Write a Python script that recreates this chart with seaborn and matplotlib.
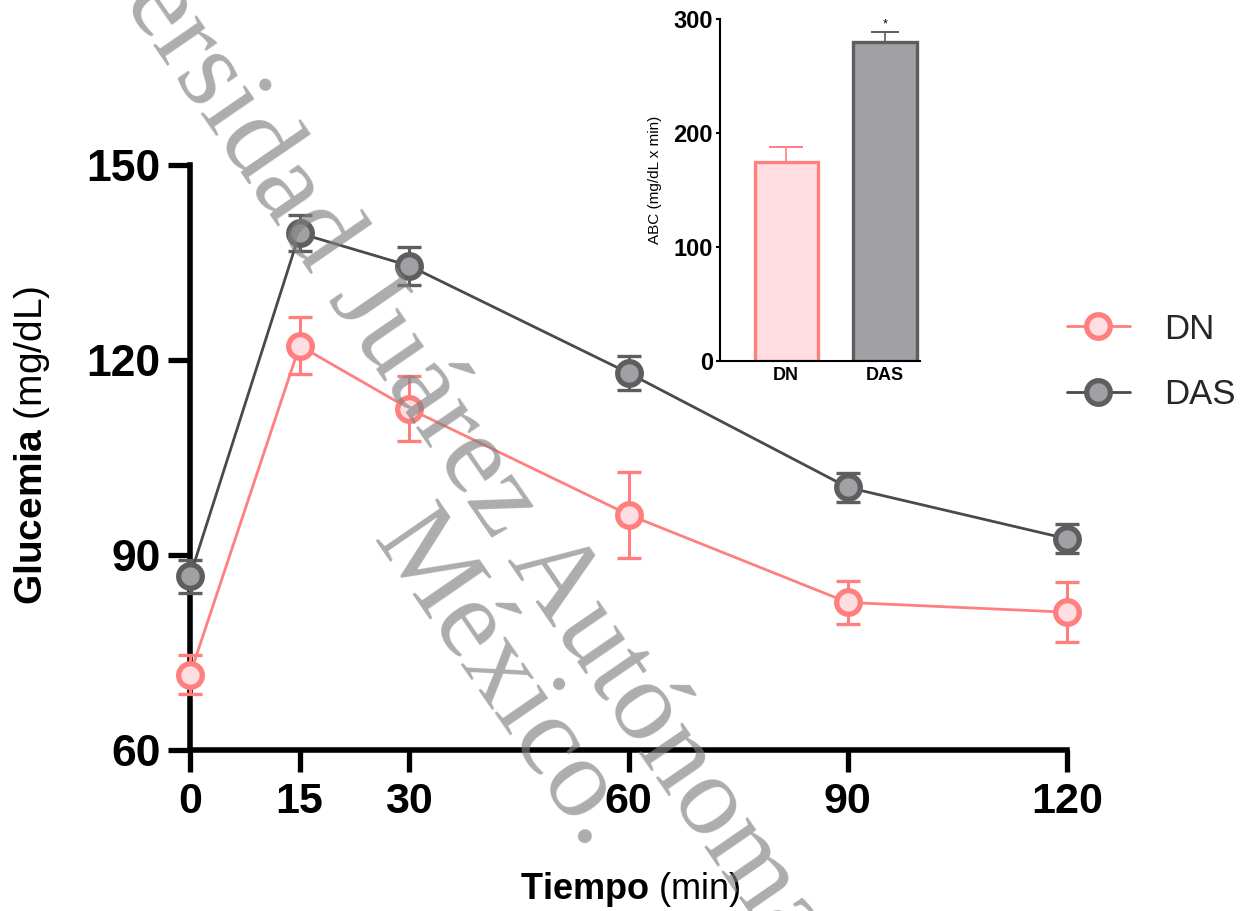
import matplotlib
matplotlib.use("Agg")
import matplotlib.pyplot as plt
import seaborn as sns
import pandas as pd
from matplotlib.lines import Line2D

# ---- data ----
time_min = [0, 15, 30, 60, 90, 120]
dn_mean = [71.6, 122.2, 112.5, 96.2, 82.7, 81.2]
dn_sem = [3.0, 4.4, 5.0, 6.6, 3.3, 4.6]
das_mean = [86.7, 139.5, 134.5, 118.0, 100.4, 92.5]
das_sem = [2.5, 2.8, 2.9, 2.6, 2.2, 2.2]

groups = ["DN", "DAS"]
abc_mean = [174.6, 279.6]
abc_sem = [13.4, 9.3]

y_ticks = [60, 90, 120, 150]
x_ticks = [0, 15, 30, 60, 90, 120]
abc_ticks = [0, 100, 200, 300]

# ---- style ----
sns.set_theme(style="ticks")
plt.rcParams["font.family"] = ["Liberation Sans", "DejaVu Sans"]
plt.rcParams["mathtext.fontset"] = "custom"
plt.rcParams["mathtext.bf"] = "Liberation Sans:bold"
plt.rcParams["mathtext.rm"] = "Liberation Sans"
plt.rcParams["mathtext.it"] = "Liberation Sans:italic"

DN_EDGE = "#FF7F7F"
DN_FACE = "#FFDDE0"
DAS_EDGE = "#5E5E5E"
DAS_FACE = "#A0A0A5"
DAS_LINE = "#4A4A4A"

W, H = 1248, 911
fig = plt.figure(figsize=(W / 100, H / 100), dpi=100)
fig.patch.set_facecolor("white")

ax = fig.add_axes([190 / W, (H - 750) / H, 877 / W, 585 / H])
ax.set_facecolor("white")

df = pd.DataFrame({"t": time_min, "DN": dn_mean, "DAS": das_mean})

# error bars (behind markers)
ax.errorbar(time_min, dn_mean, yerr=dn_sem, fmt="none", ecolor=DN_EDGE,
            elinewidth=2.2, capsize=8.5, capthick=2.4, zorder=3, clip_on=False)
ax.errorbar(time_min, das_mean, yerr=das_sem, fmt="none", ecolor=DAS_EDGE,
            elinewidth=2.2, capsize=8.5, capthick=2.4, zorder=3, clip_on=False)

sns.lineplot(data=df, x="t", y="DN", ax=ax, color=DN_EDGE, lw=2.0,
             marker="o", markersize=17, markerfacecolor=DN_FACE,
             markeredgecolor=DN_EDGE, markeredgewidth=3.8, zorder=4,
             clip_on=False, legend=False)
sns.lineplot(data=df, x="t", y="DAS", ax=ax, color=DAS_LINE, lw=2.0,
             marker="o", markersize=17, markerfacecolor=DAS_FACE,
             markeredgecolor=DAS_EDGE, markeredgewidth=3.8, zorder=4,
             clip_on=False, legend=False)

ax.set_xlim(0, 120)
ax.set_ylim(60, 150)
ax.set_xticks(x_ticks)
ax.set_yticks(y_ticks)
ax.set_xticklabels([str(v) for v in x_ticks], fontsize=31, fontweight="bold")
ax.set_yticklabels([str(v) for v in y_ticks], fontsize=32, fontweight="bold")
for s in ["top", "right"]:
    ax.spines[s].set_visible(False)
for s in ["left", "bottom"]:
    ax.spines[s].set_linewidth(4.0)
    ax.spines[s].set_color("black")
ax.tick_params(axis="both", length=16, width=3.8, direction="out", colors="black")
ax.tick_params(axis="x", pad=7)
ax.tick_params(axis="y", pad=5)

ax.set_xlabel(r"$\mathbf{Tiempo}$ (min)", fontsize=26, color="black", va="center")
ax.xaxis.set_label_coords(0.5017, -0.238)
ax.set_ylabel(r"$\mathbf{Glucemia}$ (mg/dL)", fontsize=28, color="black", va="center")
ax.yaxis.set_label_coords(-0.18, 0.521)

# legend
handles = [
    Line2D([], [], color=DN_EDGE, lw=2.0, marker="o", markersize=17,
           markerfacecolor=DN_FACE, markeredgecolor=DN_EDGE, markeredgewidth=3.8),
    Line2D([], [], color=DAS_LINE, lw=2.0, marker="o", markersize=17,
           markerfacecolor=DAS_FACE, markeredgecolor=DAS_EDGE, markeredgewidth=3.8),
]
fig.legend(handles, groups, loc="center left", bbox_to_anchor=(1067 / W, 1 - 362 / H),
           frameon=False, fontsize=25, handlelength=1.8, handletextpad=1.0,
           labelspacing=0.95, borderpad=0, borderaxespad=0)

# ---- inset: area under curve ----
axin = fig.add_axes([720 / W, (H - 361) / H, 200 / W, 342 / H])
axin.set_facecolor("white")
sns.barplot(x=groups, y=abc_mean, hue=groups, palette=[DN_FACE, DAS_FACE],
            ax=axin, width=0.64, errorbar=None, legend=False, saturation=1,
            linewidth=2.4, zorder=2)
for patch, ec in zip(axin.patches, [DN_EDGE, DAS_EDGE]):
    patch.set_edgecolor(ec)
    patch.set_linewidth(2.4)
axin.errorbar([0], [abc_mean[0]], yerr=[[0], [abc_sem[0]]], fmt="none",
              ecolor=DN_EDGE, elinewidth=1.2, capsize=12, capthick=1.4, zorder=1)
axin.errorbar([1], [abc_mean[1]], yerr=[[0], [abc_sem[1]]], fmt="none",
              ecolor=DAS_EDGE, elinewidth=1.2, capsize=10, capthick=1.4, zorder=1)
axin.text(1, abc_mean[1] + abc_sem[1] + 1, "*", ha="center", va="bottom",
          fontsize=9, color="black")
axin.set_xlim(-0.67, 1.355)
axin.set_ylim(0, 300)
axin.set_yticks(abc_ticks)
axin.set_yticklabels([str(v) for v in abc_ticks], fontsize=17, fontweight="bold")
axin.set_xticks([0, 1])
axin.set_xticklabels(groups, fontsize=13, fontweight="bold")
for s in ["top", "right"]:
    axin.spines[s].set_visible(False)
for s in ["left", "bottom"]:
    axin.spines[s].set_linewidth(1.5)
    axin.spines[s].set_color("black")
axin.tick_params(axis="y", length=3, width=1.5, pad=2, colors="black")
axin.tick_params(axis="x", length=0, pad=4, colors="black")
axin.set_ylabel("ABC (mg/dL x min)", fontsize=11, color="black", va="center")
axin.yaxis.set_label_coords((655 - 720) / 200, 0.53)

# ---- watermark ----
wm = dict(rotation=-55.5, rotation_mode="anchor", ha="left", va="baseline",
          fontsize=83, family=["Liberation Serif", "DejaVu Serif"],
          color="gray", alpha=0.65, zorder=10)
fig.text(-8 / W, 1 + 189 / H, "Universidad Juárez Autónoma de Tabasco.", **wm)
fig.text(371 / W, 1 - 540 / H, "México.", **wm)

fig.savefig("out.png", dpi=100)
